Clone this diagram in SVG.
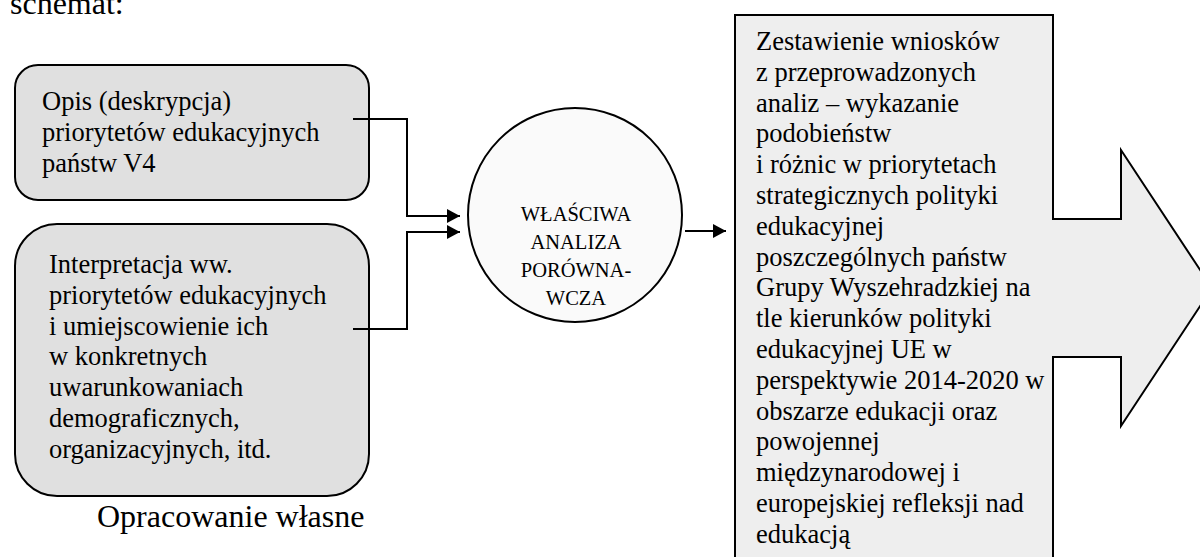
<svg xmlns="http://www.w3.org/2000/svg" width="1200" height="557" viewBox="0 0 1200 557">
<style>
  .t { font-family: "Liberation Serif", "Times New Roman", serif; fill: #000; }
  .box { fill: #e0e0e0; stroke: #000; stroke-width: 2; }
  .big { font-size: 26.5px; }
  .cir { font-size: 20.5px; }
  .conn { fill: none; stroke: #000; stroke-width: 2; }
</style>
<defs>
  <marker id="ah" markerWidth="14" markerHeight="14" refX="13" refY="7" orient="auto" markerUnits="userSpaceOnUse">
    <path d="M0,0 L13,7 L0,14 Z" fill="#000"/>
  </marker>
</defs>
<rect width="1200" height="557" fill="#fff"/>
<text class="t" x="10" y="14" font-size="32">schemat:</text>

<g id="box-opis">
  <rect class="box" x="15" y="65" width="354" height="135" rx="23" ry="23"/>
  <text class="t big" x="42" y="110">Opis (deskrypcja)</text>
  <text class="t big" x="42" y="140.8">priorytetów edukacyjnych</text>
  <text class="t big" x="42" y="171.6">państw V4</text>
</g>

<g id="box-interpretacja">
  <rect class="box" x="15" y="224" width="354" height="272" rx="42" ry="42"/>
  <text class="t big" x="49" y="273">Interpretacja ww.</text>
  <text class="t big" x="49" y="303.8">priorytetów edukacyjnych</text>
  <text class="t big" x="49" y="334.6">i umiejscowienie ich</text>
  <text class="t big" x="49" y="365.4">w konkretnych</text>
  <text class="t big" x="49" y="396.2">uwarunkowaniach</text>
  <text class="t big" x="49" y="427">demograficznych,</text>
  <text class="t big" x="49" y="457.8">organizacyjnych, itd.</text>
</g>

<text class="t" x="97" y="527" font-size="32">Opracowanie własne</text>

<g id="circle-analiza">
  <circle cx="575" cy="215" r="107" fill="#fafafa" stroke="#000" stroke-width="2"/>
  <text class="t cir" x="576" y="221" text-anchor="middle">WŁAŚCIWA</text>
  <text class="t cir" x="576" y="249" text-anchor="middle">ANALIZA</text>
  <text class="t cir" x="576" y="277" text-anchor="middle">PORÓWNA-</text>
  <text class="t cir" x="576" y="305" text-anchor="middle">WCZA</text>
</g>

<g id="arrow-wnioski">
  <path d="M735,15 L1053,15 L1053,219 L1121,219 L1121,150 L1212,288 L1121,426 L1121,357 L1053,357 L1053,560 L735,560 Z" fill="#eeeeee" stroke="#000" stroke-width="2"/>
  <text class="t big" x="756" y="50">Zestawienie wniosków</text>
  <text class="t big" x="756" y="80.8">z przeprowadzonych</text>
  <text class="t big" x="756" y="111.6">analiz – wykazanie</text>
  <text class="t big" x="756" y="142.4">podobieństw</text>
  <text class="t big" x="756" y="173.2">i różnic w priorytetach</text>
  <text class="t big" x="756" y="204">strategicznych polityki</text>
  <text class="t big" x="756" y="234.8">edukacyjnej</text>
  <text class="t big" x="756" y="265.6">poszczególnych państw</text>
  <text class="t big" x="756" y="296.4">Grupy Wyszehradzkiej na</text>
  <text class="t big" x="756" y="327.2">tle kierunków polityki</text>
  <text class="t big" x="756" y="358">edukacyjnej UE w</text>
  <text class="t big" x="756" y="388.8">perspektywie 2014-2020 w</text>
  <text class="t big" x="756" y="419.6">obszarze edukacji oraz</text>
  <text class="t big" x="756" y="450.4">powojennej</text>
  <text class="t big" x="756" y="481.2">międzynarodowej i</text>
  <text class="t big" x="756" y="512">europejskiej refleksji nad</text>
  <text class="t big" x="756" y="542.8">edukacją</text>
</g>

<g id="connectors">
  <path class="conn" d="M353,119 L407,119 L407,216 L460,216" marker-end="url(#ah)"/>
  <path class="conn" d="M353,329 L407,329 L407,232 L460,232" marker-end="url(#ah)"/>
  <path class="conn" d="M685,231 L726,231" marker-end="url(#ah)"/>
</g>
</svg>
